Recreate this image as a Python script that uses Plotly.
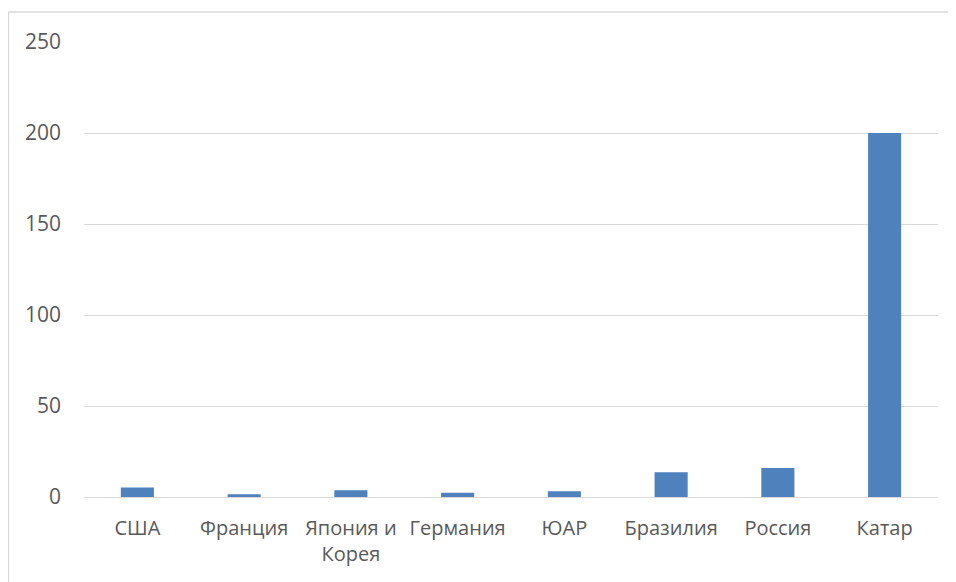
import plotly.graph_objects as go

categories = ["США", "Франция", "Япония и<br>Корея", "Германия", "ЮАР", "Бразилия", "Россия", "Катар"]
values = [5.2, 1.5, 3.7, 2.4, 3.1, 13.6, 15.9, 200]
y_ticks = [0, 50, 100, 150, 200, 250]

# page has an 8px body margin, so the figure starts at (8, 8)
W, H = 948, 574
L, R, T, B = 76, 18, 34, 85
PW, PH = W - L - R, H - T - B

fig = go.Figure(go.Bar(
    x=categories, y=values,
    marker=dict(color="#4f81bd", line=dict(width=0)),
    hoverinfo="x+y",
))

fig.update_layout(
    width=W, height=H,
    margin=dict(l=L, r=R, t=T, b=B, pad=0),
    paper_bgcolor="white", plot_bgcolor="white",
    bargap=0.69,
    showlegend=False,
    font=dict(family="Open Sans", size=20, color="#595959"),
    xaxis=dict(
        showgrid=False, showline=False, zeroline=False,
        ticks="outside", ticklen=13, tickcolor="rgba(0,0,0,0)",
        tickfont=dict(size=20, color="#595959"),
    ),
    yaxis=dict(
        range=[0, 250], tickvals=y_ticks,
        showgrid=True, gridcolor="#d9d9d9", gridwidth=1,
        zeroline=True, zerolinecolor="#d9d9d9", zerolinewidth=1,
        showline=False, ticks="",
        ticklabelstandoff=22,
        tickfont=dict(size=21, color="#595959"),
    ),
    shapes=[
        dict(type="line", xref="paper", yref="paper",
             x0=(0.5 - L) / PW, x1=(W - L) / PW,
             y0=(H - B - 4) / PH, y1=(H - B - 4) / PH,
             line=dict(color="#d9d9d9", width=1.5)),
        dict(type="line", xref="paper", yref="paper",
             x0=(0.5 - L) / PW, x1=(0.5 - L) / PW,
             y0=(H - B - 4) / PH, y1=(-B) / PH,
             line=dict(color="#d9d9d9", width=1.5)),
    ],
)

fig.write_html("out.html")
